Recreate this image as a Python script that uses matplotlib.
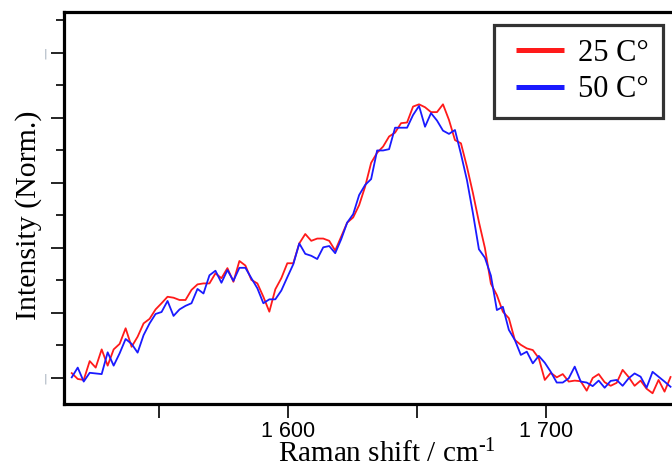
import numpy as np
import matplotlib
matplotlib.use("Agg")
import matplotlib.pyplot as plt
from matplotlib.ticker import FixedLocator

plt.rcParams['mathtext.fontset'] = 'custom'
plt.rcParams['mathtext.rm'] = 'Liberation Serif'
plt.rcParams['mathtext.it'] = 'Liberation Serif:italic'

# Raman shift sampling grid (cm^-1)
x_start = 1516.2
x_end = 1748.3

# Normalized intensity, 25 C
red_25 = [0.015, -0.003, -0.006, 0.052, 0.032, 0.088, 0.038, 0.088, 0.105, 0.153,
          0.096, 0.127, 0.168, 0.182, 0.211, 0.230, 0.250, 0.247, 0.240, 0.240,
          0.271, 0.288, 0.291, 0.291, 0.322, 0.307, 0.338, 0.296, 0.360, 0.346,
          0.302, 0.291, 0.250, 0.204, 0.273, 0.307, 0.353, 0.353, 0.414, 0.443,
          0.422, 0.429, 0.429, 0.422, 0.392, 0.435, 0.478, 0.494, 0.532, 0.589,
          0.662, 0.693, 0.712, 0.743, 0.755, 0.784, 0.786, 0.835, 0.842, 0.833,
          0.818, 0.818, 0.842, 0.794, 0.732, 0.722, 0.650, 0.569, 0.480, 0.400,
          0.290, 0.255, 0.204, 0.184, 0.117, 0.102, 0.091, 0.086, 0.061, -0.006,
          0.016, 0.002, 0.012, -0.011, -0.008, -0.010, -0.039, 0.000, 0.012, -0.013,
          -0.024, -0.015, 0.025, 0.003, -0.024, -0.008, -0.033, -0.047, -0.006, -0.042,
          0.003]

# Normalized intensity, 50 C
blue_50 = [0.002, 0.032, -0.011, 0.016, 0.014, 0.012, 0.079, 0.038, 0.076, 0.120,
           0.105, 0.078, 0.132, 0.168, 0.197, 0.203, 0.237, 0.191, 0.211, 0.222,
           0.230, 0.274, 0.260, 0.316, 0.330, 0.293, 0.332, 0.299, 0.339, 0.339,
           0.307, 0.276, 0.230, 0.242, 0.242, 0.269, 0.310, 0.350, 0.414, 0.382,
           0.376, 0.366, 0.402, 0.406, 0.384, 0.427, 0.478, 0.504, 0.563, 0.594,
           0.612, 0.700, 0.700, 0.704, 0.770, 0.770, 0.770, 0.809, 0.837, 0.773,
           0.815, 0.792, 0.761, 0.751, 0.763, 0.689, 0.609, 0.507, 0.396, 0.370,
           0.315, 0.209, 0.219, 0.148, 0.117, 0.071, 0.081, 0.045, 0.068, 0.047,
           0.019, -0.014, -0.014, -0.001, 0.035, -0.011, -0.014, -0.025, -0.008, -0.030,
           -0.009, -0.006, -0.024, -0.001, 0.014, 0.004, -0.030, 0.019, 0.004, -0.011,
           -0.027]

series_labels = ["25 C°", "50 C°"]
x_ticks = [1600, 1700]
x_tick_labels = ["1 600", "1 700"]

x = np.linspace(x_start, x_end, len(red_25))

W, H = 672, 470
fig = plt.figure(figsize=(W / 100, H / 100), dpi=100)
ax_left, ax_right_px, ax_top, ax_bot = 64, 710, 12, 404
ax = fig.add_axes([ax_left / W, 1 - ax_bot / H, (ax_right_px - ax_left) / W, (ax_bot - ax_top) / H])

ax.plot(x, red_25, color='#ff1a1a', lw=1.3, label=series_labels[0])
ax.plot(x, blue_50, color='#1a1aff', lw=1.3, label=series_labels[1])

ax.set_xlim(1513.2, 1763.6)
ax.set_ylim(-0.08, 1.126)

for s in ['left', 'bottom', 'top', 'right']:
    ax.spines[s].set_linewidth(2.3)
ax.spines['right'].set_visible(False)

ax.xaxis.set_major_locator(FixedLocator(x_ticks))
ax.set_xticklabels(x_tick_labels, fontfamily='Liberation Sans', fontsize=15.5)
ax.xaxis.set_minor_locator(FixedLocator([1550, 1650, 1750]))
ax.tick_params(axis='x', which='major', direction='out', length=10, width=1.2, pad=2.5)
ax.tick_params(axis='x', which='minor', direction='out', length=10, width=1.2)

ax.yaxis.set_major_locator(FixedLocator([0, 0.2, 0.4, 0.6, 0.8, 1.0]))
ax.yaxis.set_minor_locator(FixedLocator([0.1, 0.3, 0.5, 0.7, 0.9, 1.1]))
ax.set_yticklabels(['|', '', '', '', '', '|'], fontsize=8, color='#9aa6b4')
ax.tick_params(axis='y', which='major', direction='out', length=9.5, width=1.2, pad=2.5)
ax.tick_params(axis='y', which='minor', direction='out', length=5.5, width=1.2)

ax.set_xlabel("Raman shift / cm$^{\u2010 1}$", fontfamily='Liberation Serif', fontsize=21, labelpad=-2)
ax.set_ylabel("Intensity (Norm.)", fontfamily='Liberation Serif', fontsize=21.5, labelpad=1)
ax.yaxis.label.set_y(0.482)

fs = 22
shift_em = 0.285
leg = ax.legend(loc='upper right', bbox_to_anchor=(663 / W, 1 - 25 / H), bbox_transform=fig.transFigure,
                borderaxespad=0, frameon=True, fancybox=False, edgecolor='black',
                prop={'family': 'Liberation Serif', 'size': fs}, handlelength=1.57,
                handletextpad=0.76, labelspacing=0.25, borderpad=0.45)
leg.get_frame().set_linewidth(2.3)
for line in leg.get_lines():
    line.set_linewidth(3.6)
    line.set_solid_capstyle('butt')
    line.set_xdata(np.asarray(line.get_xdata(), dtype=float) + shift_em * fs)

fig.savefig("out.png", dpi=100)
